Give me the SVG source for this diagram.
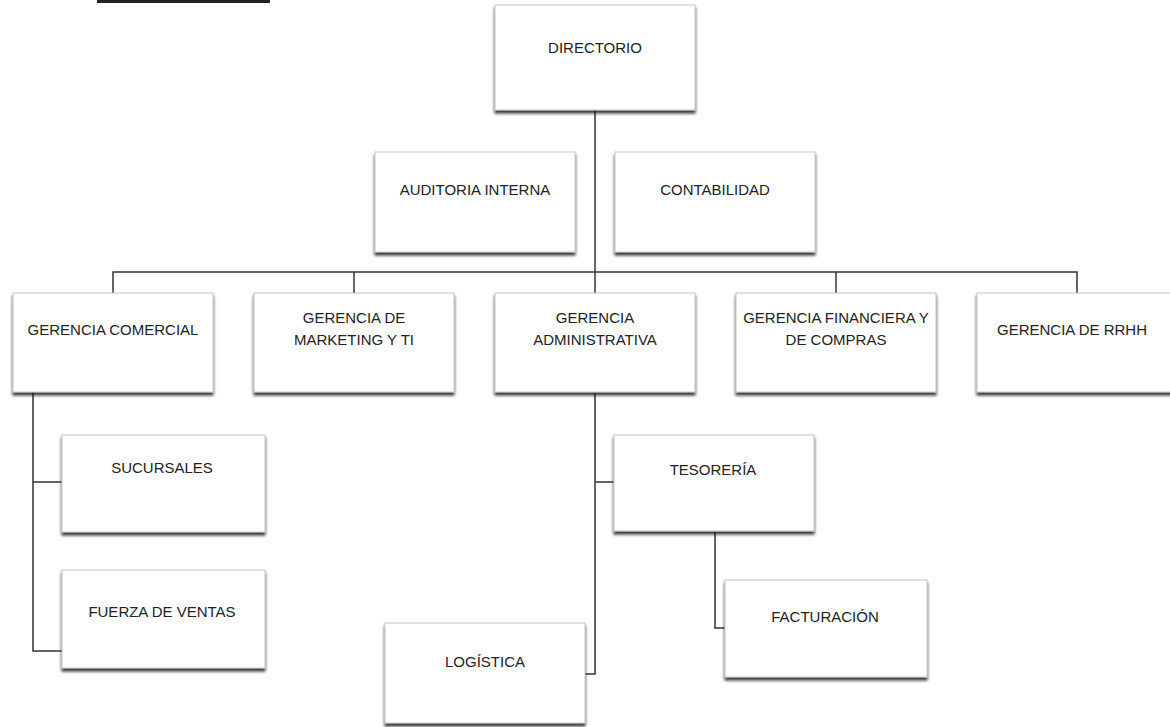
<svg xmlns="http://www.w3.org/2000/svg" width="1170" height="727" viewBox="0 0 1170 727">
  <style>
    .box { fill: #ffffff; stroke: #c4c4c4; stroke-width: 1; filter: url(#shadow); }
    .lbl { font-family: "Liberation Sans", Arial, sans-serif; font-size: 15px; fill: #222222; text-anchor: middle; }
    .con { fill: none; stroke: #333333; stroke-width: 1.5; }
  </style>
  <defs>
    <filter id="shadow" x="-10%" y="-10%" width="120%" height="130%">
      <feDropShadow dx="0" dy="3" stdDeviation="1.4" flood-color="#111111" flood-opacity="0.85"/>
    </filter>
  </defs>
  <rect width="1170" height="727" fill="#ffffff"/>
  <rect x="97" y="0" width="173" height="3" fill="#222222"/>

  <g id="connectors">
    <path class="con" d="M595 110 V272"/>
    <path class="con" d="M113 293 V272 H1077 V293"/>
    <path class="con" d="M354 272 V293"/>
    <path class="con" d="M595 272 V293"/>
    <path class="con" d="M836 272 V293"/>
    <path class="con" d="M33 392 V651 H62"/>
    <path class="con" d="M33 482 H62"/>
    <path class="con" d="M595 393 V674 H585"/>
    <path class="con" d="M595 482 H614"/>
    <path class="con" d="M715 531 V628 H725"/>
  </g>

  <g id="directorio">
    <rect class="box" x="495" y="5" width="200" height="105"/>
    <text class="lbl" x="595" y="53">DIRECTORIO</text>
  </g>
  <g id="auditoria">
    <rect class="box" x="375" y="152" width="200" height="100"/>
    <text class="lbl" x="475" y="195">AUDITORIA INTERNA</text>
  </g>
  <g id="contabilidad">
    <rect class="box" x="615" y="152" width="200" height="100"/>
    <text class="lbl" x="715" y="195">CONTABILIDAD</text>
  </g>
  <g id="comercial">
    <rect class="box" x="13" y="293" width="200" height="99"/>
    <text class="lbl" x="113" y="335">GERENCIA COMERCIAL</text>
  </g>
  <g id="marketing">
    <rect class="box" x="254" y="293" width="200" height="99"/>
    <text class="lbl" x="354" y="323">GERENCIA DE</text>
    <text class="lbl" x="354" y="345">MARKETING Y TI</text>
  </g>
  <g id="administrativa">
    <rect class="box" x="495" y="293" width="200" height="99"/>
    <text class="lbl" x="595" y="323">GERENCIA</text>
    <text class="lbl" x="595" y="345">ADMINISTRATIVA</text>
  </g>
  <g id="financiera">
    <rect class="box" x="736" y="293" width="200" height="99"/>
    <text class="lbl" x="836" y="323">GERENCIA FINANCIERA Y</text>
    <text class="lbl" x="836" y="345">DE COMPRAS</text>
  </g>
  <g id="rrhh">
    <rect class="box" x="977" y="293" width="200" height="99"/>
    <text class="lbl" x="1072" y="335">GERENCIA DE RRHH</text>
  </g>
  <g id="sucursales">
    <rect class="box" x="62" y="435" width="203" height="97"/>
    <text class="lbl" x="162" y="473">SUCURSALES</text>
  </g>
  <g id="fuerza">
    <rect class="box" x="62" y="570" width="203" height="98"/>
    <text class="lbl" x="162" y="617">FUERZA DE VENTAS</text>
  </g>
  <g id="tesoreria">
    <rect class="box" x="614" y="435" width="200" height="96"/>
    <text class="lbl" x="713" y="475">TESORERÍA</text>
  </g>
  <g id="facturacion">
    <rect class="box" x="725" y="580" width="202" height="97"/>
    <text class="lbl" x="825" y="622">FACTURACIÓN</text>
  </g>
  <g id="logistica">
    <rect class="box" x="385" y="623" width="200" height="100"/>
    <text class="lbl" x="485" y="667">LOGÍSTICA</text>
  </g>
</svg>
